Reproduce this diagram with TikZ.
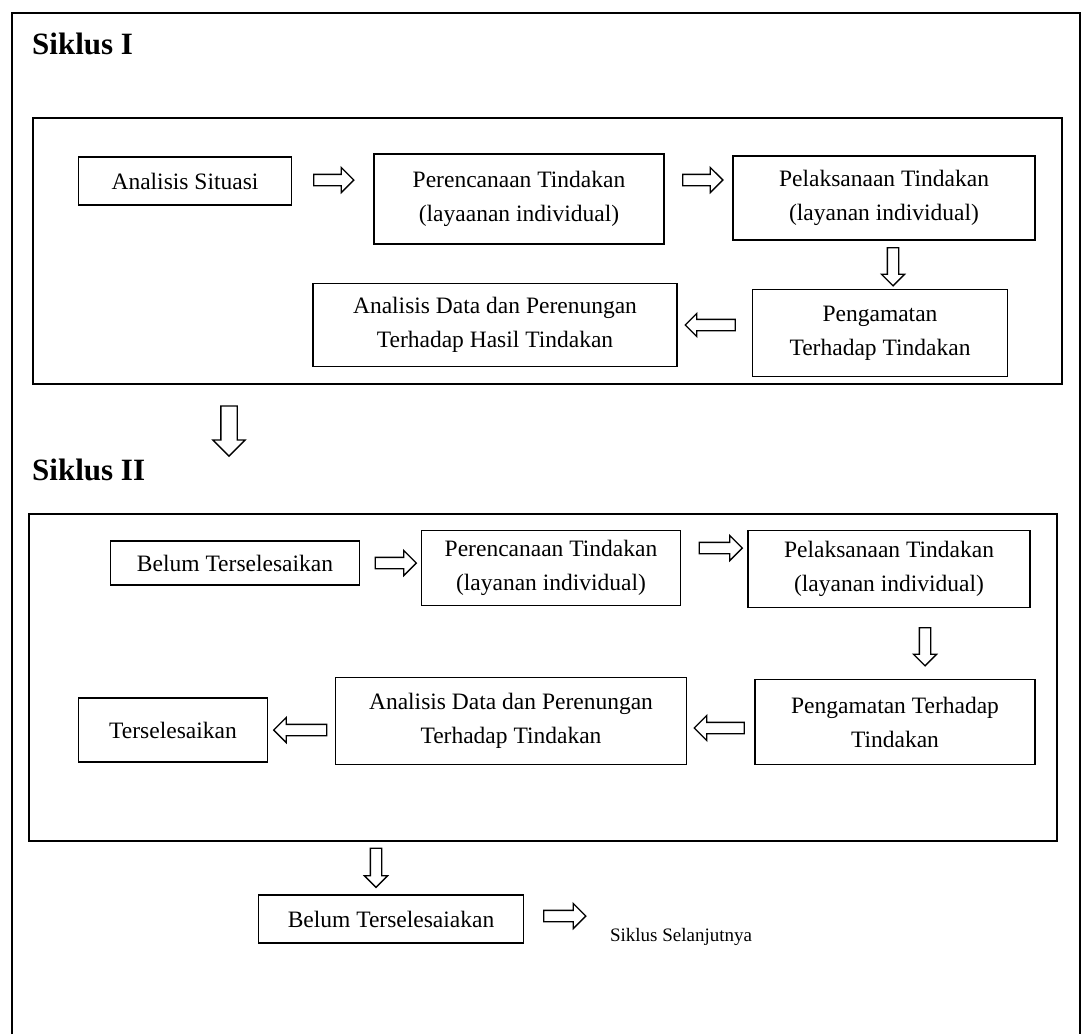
\documentclass[tikz,border=0pt]{standalone}
\usepackage{fontspec}
\setmainfont{Liberation Serif}
\usetikzlibrary{shapes, arrows, calc, positioning}

\begin{document}
\begin{tikzpicture}[x=1pt, y=-1pt, box/.style={draw, line width=1.6pt, align=center, inner sep=0pt, font=\fontsize{23.5}{34}\selectfont}, fat/.style={single arrow, draw, line width=1.3pt, minimum height=40pt, inner xsep=0pt, inner ysep=5pt, single arrow head extend=7pt}]
	\tikzset{title/.style={anchor=base west, inner sep=0pt, font=\fontsize{31}{31}\selectfont\bfseries}}
	\useasboundingbox (0,0) rectangle (1083,1034);
	\draw[line width=1.6pt] (12,1034) -- (12,13) -- (1080,13) -- (1080,1034);
	\node[title] (s1) at (32,54) {Siklus I};
	\draw[line width=1.6pt] (33,118) rectangle (1062,384);
	\node[box, minimum width=213pt, minimum height=48pt] (a1) at (185,181) {Analisis Situasi};
	\node[box, minimum width=290pt, minimum height=90pt] (p1) at (519,199) {Perencanaan Tindakan\\(layaanan individual)};
	\node[box, minimum width=302pt, minimum height=84pt] (l1) at (884,198) {Pelaksanaan Tindakan\\(layanan individual)};
	\node[box, minimum width=255pt, minimum height=87pt] (o1) at (880,333) {Pengamatan\\Terhadap Tindakan};
	\node[box, minimum width=364pt, minimum height=83pt] (d1) at (495,325) {Analisis Data dan Perenungan\\Terhadap Hasil Tindakan};
	\node[fat] (f1) at (331,180) {};
	\node[fat] (f2) at (700,180) {};
	\node[fat, rotate=-90, minimum height=38pt, single arrow head extend=6pt] (f3) at (893,264) {};
	\node[fat, rotate=180, minimum height=50pt, single arrow head extend=6pt] (f4) at (713,325) {};
	\node[fat, rotate=-90, minimum height=50pt, inner ysep=7.5pt, single arrow head extend=8pt] (f5) at (229,427) {};
	\node[title] (s2) at (32,480) {Siklus II};
	\draw[line width=1.6pt] (29,514) rectangle (1057,841);
	\node[box, minimum width=249pt, minimum height=44pt] (a2) at (235,563) {Belum Terselesaikan};
	\node[box, minimum width=259pt, minimum height=75pt] (p2) at (551,568) {Perencanaan Tindakan\\(layanan individual)};
	\node[box, minimum width=282pt, minimum height=77pt] (l2) at (889,569) {Pelaksanaan Tindakan\\(layanan individual)};
	\node[box, minimum width=280pt, minimum height=85pt] (o2) at (895,722) {Pengamatan Terhadap\\Tindakan};
	\node[box, minimum width=351pt, minimum height=87pt] (d2) at (511,721) {Analisis Data dan Perenungan\\Terhadap Tindakan};
	\node[box, minimum width=189pt, minimum height=64pt] (t2) at (173,730) {Terselesaikan};
	\node[fat, minimum height=41pt] (f6) at (393,563) {};
	\node[fat, minimum height=43pt] (f7) at (718,548) {};
	\node[fat, rotate=-90, minimum height=38pt, single arrow head extend=6pt] (f8) at (925,644) {};
	\node[fat, rotate=180, minimum height=50pt] (f9) at (722,728) {};
	\node[fat, rotate=180, minimum height=53pt] (f10) at (303,730) {};
	\node[fat, rotate=-90, minimum height=39pt, single arrow head extend=6pt] (f11) at (376,865) {};
	\node[box, minimum width=265pt, minimum height=48pt] (b3) at (391,919) {Belum Terselesaiakan};
	\node[fat, minimum height=42pt] (f12) at (562,916) {};
	\node[font=\fontsize{19}{19}\selectfont] (s3) at (681,937) {Siklus Selanjutnya};
\end{tikzpicture}
\end{document}
